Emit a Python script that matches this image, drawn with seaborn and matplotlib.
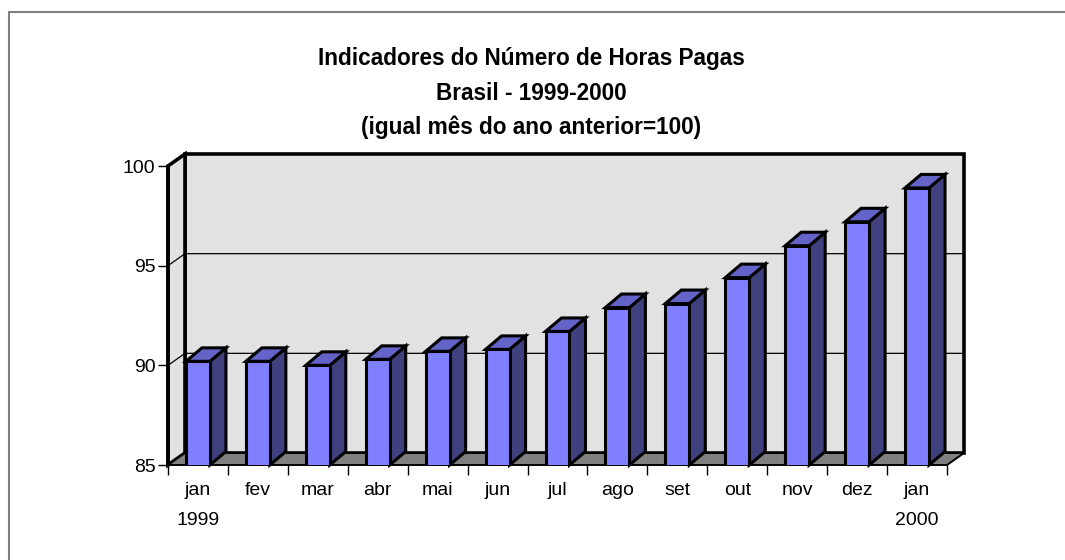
import matplotlib
matplotlib.use("Agg")
import matplotlib.pyplot as plt
from matplotlib.patches import Polygon, Rectangle
import pandas as pd
import seaborn as sns

# dados
meses = ["jan\n1999", "fev", "mar", "abr", "mai", "jun", "jul",
         "ago", "set", "out", "nov", "dez", "jan\n2000"]
indice = [90.2, 90.2, 90.0, 90.3, 90.7, 90.8, 91.7, 92.9, 93.1, 94.4, 96.0, 97.2, 98.9]
escala = [85, 90, 95, 100]
titulo = ["Indicadores do Número de Horas Pagas",
          "Brasil - 1999-2000",
          "(igual mês do ano anterior=100)"]

sns.set_style("white")
plt.rcParams['font.family'] = ['Liberation Sans', 'DejaVu Sans']
plt.rcParams['text.color'] = 'black'

W, H = 1065, 560
fig = plt.figure(figsize=(W / 100, H / 100), dpi=100)
ax = fig.add_axes([168 / W, 1 - 465 / H, (947 - 168) / W, (465 - 166) / H])
ax.patch.set_visible(False)

df = pd.DataFrame({"mes": meses, "indice": indice})
sns.barplot(data=df, x="mes", y="indice", color="#8080ff", saturation=1,
            width=0.4, edgecolor="black", linewidth=2.2, ax=ax, zorder=3)
bars = list(ax.patches)

x0, x1 = -0.5, len(meses) - 0.5
ymin, ymax = escala[0], escala[-1]
ax.set_xlim(x0, x1)
ax.set_ylim(ymin, ymax)

# pixels por unidade, para a profundidade "3D"
p0 = ax.transData.transform((0, ymin))
p1 = ax.transData.transform((1, ymin + 1))
ux, uy = p1[0] - p0[0], p1[1] - p0[1]
owx, owy = 17 / ux, 12 / uy      # paredes
obx, oby = 16 / ux, 13.5 / uy    # barras

wall = "#e2e2e2"
ax.add_patch(Polygon([(x0 + owx, ymin + owy), (x1 + owx, ymin + owy),
                      (x1 + owx, ymax + owy), (x0 + owx, ymax + owy)],
                     fc=wall, ec="black", lw=2.6, zorder=0.5, clip_on=False))
ax.add_patch(Polygon([(x0, ymin), (x0, ymax), (x0 + owx, ymax + owy), (x0 + owx, ymin + owy)],
                     fc=wall, ec="black", lw=2.6, zorder=0.6, clip_on=False))
for v in escala[1:-1]:
    ax.plot([x0, x0 + owx, x1 + owx], [v, v + owy, v + owy], color="black",
            lw=0.9, zorder=0.8, clip_on=False)
ax.add_patch(Polygon([(x0, ymin), (x1, ymin), (x1 + owx, ymin + owy), (x0 + owx, ymin + owy)],
                     fc="#808080", ec="black", lw=1.4, zorder=1, clip_on=False))
ax.plot([x0, x0], [ymin, ymax], color="black", lw=2.6, zorder=1.2, clip_on=False)

for p in bars:
    bx, bw, top = p.get_x(), p.get_width(), p.get_height()
    r = bx + bw
    ax.add_patch(Polygon([(r, ymin), (r, top), (r + obx, top + oby), (r + obx, ymin + oby)],
                         fc="#40407f", ec="black", lw=2.2, zorder=2.9, clip_on=False))
    ax.add_patch(Polygon([(bx, top), (r, top), (r + obx, top + oby), (bx + obx, top + oby)],
                         fc="#6464c8", ec="black", lw=2.2, zorder=2.9, clip_on=False))

for s in ax.spines.values():
    s.set_visible(False)
ax.set_xlabel("")
ax.set_ylabel("")
ax.set_yticks(escala)
ax.set_xticks(range(len(meses)))
ax.set_xticklabels(meses)
ax.set_xticks([i - 0.5 for i in range(len(meses) + 1)], minor=True)
ax.tick_params(axis="y", left=True, direction="out", length=7, width=1,
               pad=2, labelsize=14, colors="black")
ax.tick_params(axis="x", which="major", bottom=True, length=0, pad=12,
               labelsize=14, colors="black")
ax.tick_params(axis="x", which="minor", bottom=True, direction="out",
               length=7, width=1, colors="black")
for lab in ax.get_xticklabels():
    lab.set_linespacing(2.0)
    lab.set_verticalalignment("top")

for i, linha in enumerate(titulo):
    fig.text(531 / W, 1 - (65 + 34.5 * i) / H, linha, ha="center", va="baseline",
             fontsize=16.3, fontweight="bold", color="black")

fig.patches.append(Rectangle((9 / W, -0.1), 1.2, 1 - 11.5 / H + 0.1,
                             transform=fig.transFigure, fill=False,
                             ec="#808080", lw=1.5))

fig.savefig("out.png", dpi=100)
